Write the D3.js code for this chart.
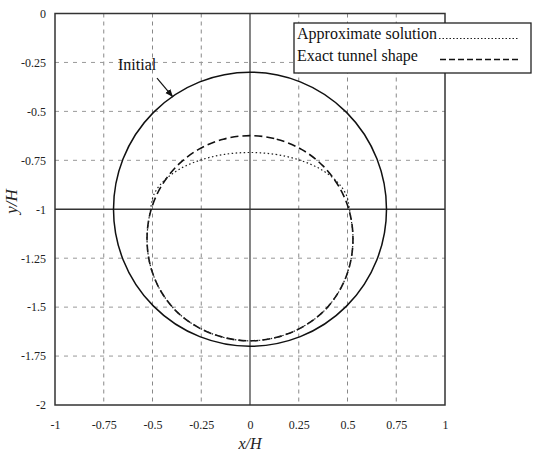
<!DOCTYPE html>
<html>
<head>
<meta charset="utf-8">
<script src="https://cdn.jsdelivr.net/npm/d3@7"></script>
<style>
  html, body { margin: 0; padding: 0; background: #fff; }
  svg { display: block; }
</style>
</head>
<body>
<svg id="chart" width="540" height="453"></svg>
<script>
// ---- data ----
const xTicks = [-1, -0.75, -0.5, -0.25, 0, 0.25, 0.5, 0.75, 1];
const xTickLabels = ["-1", "-0.75", "-0.5", "-0.25", "0", "0.25", "0.5", "0.75", "1"];
const yTicks = [0, -0.25, -0.5, -0.75, -1, -1.25, -1.5, -1.75, -2];
const yTickLabels = ["0", "-0.25", "-0.5", "-0.75", "-1", "-1.25", "-1.5", "-1.75", "-2"];

// initial tunnel: circle centre and radius
const initialCenter = [0, -1];
const initialRadius = 0.7;

// exact tunnel shape (dashed), points read around the curve
const exactX = [0, 0.137, 0.264, 0.373, 0.457, 0.510, 0.528, 0.512, 0.462, 0.380, 0.268, 0.138,
                0, -0.138, -0.268, -0.380, -0.462, -0.512, -0.528, -0.510, -0.457, -0.373, -0.264, -0.137];
const exactY = [-0.624, -0.642, -0.694, -0.777, -0.886, -1.012, -1.148, -1.284, -1.410, -1.519, -1.602, -1.654,
                -1.672, -1.654, -1.602, -1.519, -1.410, -1.284, -1.148, -1.012, -0.886, -0.777, -0.694, -0.642];

// approximate solution (dotted)
const approxX = [0, 0.132, 0.255, 0.361, 0.442, 0.493, 0.510, 0.528, 0.512, 0.462, 0.380, 0.268, 0.138,
                 0, -0.138, -0.268, -0.380, -0.462, -0.512, -0.528, -0.510, -0.493, -0.442, -0.361, -0.255, -0.132];
const approxY = [-0.710, -0.720, -0.749, -0.795, -0.855, -0.925, -1.000, -1.148, -1.284, -1.410, -1.519, -1.602, -1.654,
                 -1.672, -1.654, -1.602, -1.519, -1.410, -1.284, -1.148, -1.000, -0.925, -0.855, -0.795, -0.749, -0.720];

const legendLabels = ["Approximate solution", "Exact tunnel shape"];
const annotationText = "Initial";
const annotationAnchor = [-0.677, -0.289];
const arrowFrom = [-0.477, -0.330];
const arrowTo = [-0.395, -0.427];

// ---- drawing ----
const svg = d3.select("#chart");
const pLeft = 55, pRight = 445, pTop = 13.5, pBottom = 405;
const x = d3.scaleLinear().domain([-1, 1]).range([pLeft, pRight]);
const y = d3.scaleLinear().domain([0, -2]).range([pTop, pBottom]);
const serif = "'Liberation Serif', 'Times New Roman', serif";

// grid
const grid = svg.append("g");
grid.selectAll("line.gx").data(xTicks.filter(d => d !== -1 && d !== 1 && d !== 0)).enter()
  .append("line")
  .attr("x1", d => x(d)).attr("x2", d => x(d))
  .attr("y1", pTop).attr("y2", pBottom)
  .attr("stroke", "#888").attr("stroke-width", 1).attr("stroke-dasharray", "4,4");
grid.selectAll("line.gy").data(yTicks.filter(d => d !== 0 && d !== -2 && d !== -1)).enter()
  .append("line")
  .attr("x1", pLeft).attr("x2", pRight)
  .attr("y1", d => y(d)).attr("y2", d => y(d))
  .attr("stroke", "#999").attr("stroke-width", 1).attr("stroke-dasharray", "4,5");

// solid centre lines
svg.append("line").attr("x1", x(0)).attr("x2", x(0)).attr("y1", pTop).attr("y2", pBottom)
  .attr("stroke", "#444").attr("stroke-width", 1.3);
svg.append("line").attr("x1", pLeft).attr("x2", pRight).attr("y1", y(-1)).attr("y2", y(-1))
  .attr("stroke", "#333").attr("stroke-width", 1.5);

// frame
svg.append("rect").attr("x", pLeft).attr("y", pTop).attr("width", pRight - pLeft).attr("height", pBottom - pTop)
  .attr("fill", "none").attr("stroke", "#333").attr("stroke-width", 1.5);

// axes (labels only)
const xAxis = d3.axisBottom(x).tickValues(xTicks).tickSize(0).tickPadding(0)
  .tickFormat((d, i) => xTickLabels[i]);
const gx = svg.append("g").attr("transform", `translate(0,${pBottom + 15})`).call(xAxis);
gx.select(".domain").remove();
gx.selectAll("text").attr("font-family", serif).attr("font-size", 12).attr("fill", "#222");

const yAxis = d3.axisLeft(y).tickValues(yTicks).tickSize(0).tickPadding(0)
  .tickFormat((d, i) => yTickLabels[i]);
const gy = svg.append("g").attr("transform", `translate(${pLeft - 9},0)`).call(yAxis);
gy.select(".domain").remove();
gy.selectAll("text").attr("font-family", serif).attr("font-size", 12).attr("fill", "#222");

// axis titles
svg.append("text").attr("x", x(0)).attr("y", 449).attr("text-anchor", "middle")
  .attr("font-family", serif).attr("font-style", "italic").attr("font-size", 16).attr("fill", "#222")
  .text("x/H");
svg.append("text").attr("transform", `translate(17,${y(-0.96)}) rotate(-90)`).attr("text-anchor", "middle")
  .attr("font-family", serif).attr("font-style", "italic").attr("font-size", 17).attr("fill", "#222")
  .text("y/H");

// initial circle
svg.append("ellipse")
  .attr("cx", x(initialCenter[0])).attr("cy", y(initialCenter[1]))
  .attr("rx", x(initialRadius) - x(0)).attr("ry", y(-initialRadius) - y(0))
  .attr("fill", "none").attr("stroke", "#111").attr("stroke-width", 1.5);

// exact shape (dashed)
const line = d3.line().x(d => x(d[0])).y(d => y(d[1])).curve(d3.curveCatmullRomClosed);
svg.append("path").datum(exactX.map((v, i) => [v, exactY[i]]))
  .attr("d", line).attr("fill", "none").attr("stroke", "#111").attr("stroke-width", 1.6)
  .attr("stroke-dasharray", "8,4");

// approximate (dotted)
svg.append("path").datum(approxX.map((v, i) => [v, approxY[i]]))
  .attr("d", line).attr("fill", "none").attr("stroke", "#222").attr("stroke-width", 1.2)
  .attr("stroke-dasharray", "1.5,2.5");

// annotation
svg.append("defs").append("marker").attr("id", "arr").attr("viewBox", "0 0 10 10")
  .attr("refX", 10).attr("refY", 5).attr("markerWidth", 8).attr("markerHeight", 8)
  .attr("markerUnits", "userSpaceOnUse").attr("orient", "auto")
  .append("path").attr("d", "M0,1 L10,5 L0,9 Z").attr("fill", "#111");
svg.append("text").attr("x", x(annotationAnchor[0])).attr("y", y(annotationAnchor[1]))
  .attr("font-family", serif).attr("font-size", 16).attr("fill", "#111").text(annotationText);
svg.append("line").attr("x1", x(arrowFrom[0])).attr("y1", y(arrowFrom[1]))
  .attr("x2", x(arrowTo[0])).attr("y2", y(arrowTo[1]))
  .attr("stroke", "#111").attr("stroke-width", 1.2).attr("marker-end", "url(#arr)");

// legend
const lg = svg.append("g");
lg.append("rect").attr("x", 294).attr("y", 23).attr("width", 237).attr("height", 50)
  .attr("fill", "#fff").attr("stroke", "#222").attr("stroke-width", 1.3);
lg.append("text").attr("x", 297).attr("y", 39).attr("font-family", serif).attr("font-size", 16)
  .attr("fill", "#111").text(legendLabels[0]);
lg.append("text").attr("x", 297).attr("y", 60.5).attr("font-family", serif).attr("font-size", 16)
  .attr("fill", "#111").text(legendLabels[1]);
lg.append("line").attr("x1", 439).attr("x2", 519).attr("y1", 38.5).attr("y2", 38.5)
  .attr("stroke", "#222").attr("stroke-width", 1.1).attr("stroke-dasharray", "1.5,2");
lg.append("line").attr("x1", 440).attr("x2", 519).attr("y1", 59.5).attr("y2", 59.5)
  .attr("stroke", "#111").attr("stroke-width", 1.4).attr("stroke-dasharray", "6,3");
</script>
</body>
</html>
